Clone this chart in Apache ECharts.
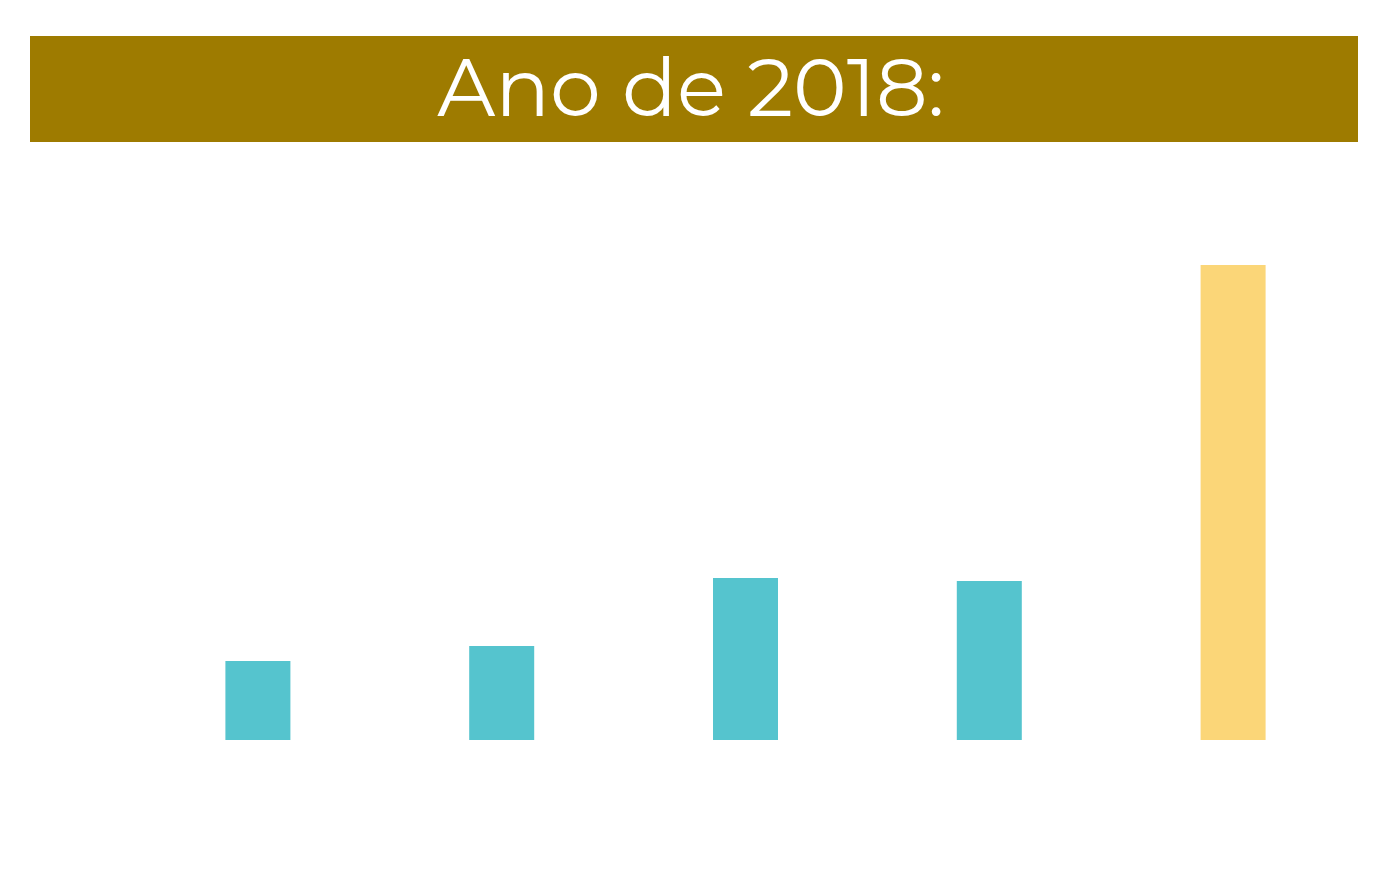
<!DOCTYPE html>
<html>
<head>
<meta charset="utf-8">
<script src="https://cdn.jsdelivr.net/npm/echarts@6/dist/echarts.min.js"></script>
<style>
html, body { margin: 0; padding: 0; background: #fff; }
#chart { width: 1382px; height: 882px; }
</style>
</head>
<body>
<div id="chart"></div>
<script>
// dados do gráfico
var categorias = ['1', '2', '3', '4', '5'];
var valores = [79, 94, 162, 159, 475];
var cores = ['#55C4CE', '#55C4CE', '#55C4CE', '#55C4CE', '#FBD678'];
var titulo = 'Ano de 2018:';

var myChart = echarts.init(document.getElementById('chart'));

var option = {
	animation: false,
	graphic: [{
		type: 'rect',
		left: 30,
		top: 36,
		shape: { width: 1328, height: 106 },
		style: { fill: '#9E7B00' },
		z: 0
	}],
	title: {
		text: titulo,
		left: 'center',
		top: 47,
		textStyle: {
			color: '#fff',
			fontFamily: 'Montserrat, "Open Sans", Lato, sans-serif',
			fontWeight: 400,
			fontSize: 81
		},
		z: 10
	},
	grid: {
		left: 136,
		right: 27,
		top: 240,
		bottom: 142
	},
	xAxis: {
		type: 'category',
		data: categorias,
		axisLine: { show: false },
		axisTick: { show: false },
		axisLabel: { show: false }
	},
	yAxis: {
		type: 'value',
		min: 0,
		max: 500,
		show: false,
		splitLine: { show: false }
	},
	series: [{
		type: 'bar',
		barWidth: 65,
		data: valores.map(function(v, i) {
			return { value: v, itemStyle: { color: cores[i] } };
		})
	}]
};

myChart.setOption(option);
</script>
</body>
</html>
